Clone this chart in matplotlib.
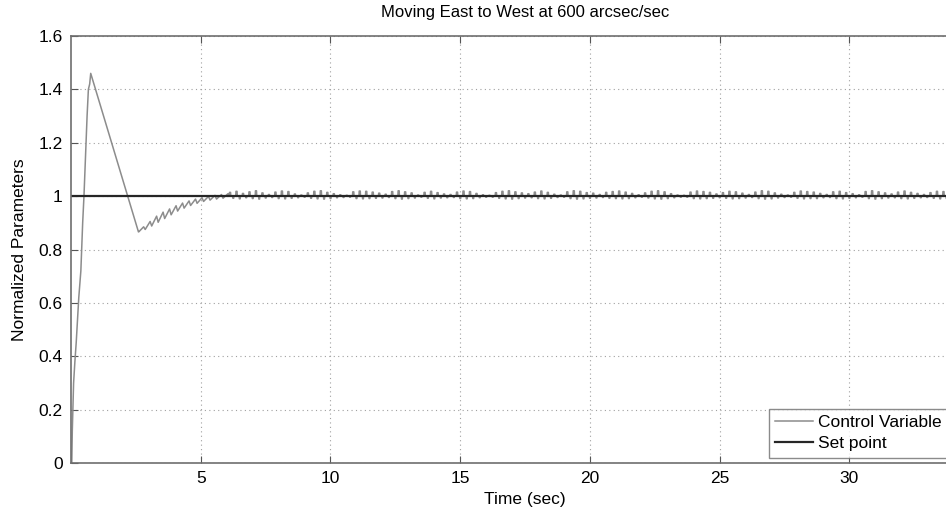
import numpy as np
import matplotlib
matplotlib.use('Agg')
import matplotlib.pyplot as plt

plt.rcParams['font.family'] = ['Liberation Sans', 'DejaVu Sans']

# rise and overshoot, then linear fall to the minimum
peak_t = [0.0, 0.03, 0.05, 0.08, 0.10, 0.15, 0.20, 0.26, 0.30, 0.35, 0.38, 0.41, 0.45, 0.50,
          0.54, 0.58, 0.62, 0.67, 0.72, 0.76, 2.60]
peak_y = [0.0, 0.0, 0.12, 0.22, 0.30, 0.38, 0.45, 0.55, 0.62, 0.68, 0.72, 0.80, 0.90, 1.00,
          1.10, 1.20, 1.30, 1.40, 1.42, 1.46, 0.866]

# recovery teeth after the undershoot (bottom / top of each tooth)
rec_lo = [0.866, 0.875, 0.888, 0.902, 0.916, 0.930, 0.944, 0.955, 0.965, 0.973, 0.980, 0.985, 0.989, 0.992]
rec_hi = [0.885, 0.905, 0.925, 0.940, 0.952, 0.964, 0.974, 0.982, 0.989, 0.994, 0.999, 1.003, 1.006, 1.009]

# steady state ripple, per cycle, in thousandths around 1
steady_hi = [14, 18, 10, 16, 20, 12, 6, 15, 19, 17,
             8, 4, 12, 18, 20, 14, 9, 5, 3, 16,
             19, 18, 15, 11, 7, 17, 20, 16, 12, 4,
             14, 18, 13, 8, 6, 15, 19, 17, 10, 5,
             3, 13, 18, 20, 16, 12, 9, 15, 19, 14,
             7, 4, 16, 20, 18, 13, 11, 6, 14, 17,
             19, 15, 10, 5, 12, 18, 20, 16, 9, 4,
             3, 15, 19, 17, 14, 8, 13, 18, 16, 11,
             6, 15, 20, 18, 12, 7, 4, 14, 19, 17,
             15, 10, 6, 16, 18, 13, 9, 5, 17, 20,
             16, 12, 8, 15, 19, 14, 10, 6, 13, 18,
             17, 12]
steady_lo = [-8, -10, -6, -9, -11, -7, -5, -9, -10, -8,
             -6, -4, -8, -10, -11, -9, -6, -5, -4, -9,
             -10, -9, -8, -7, -5, -9, -11, -9, -7, -4,
             -8, -10, -7, -6, -5, -9, -10, -9, -6, -4,
             -4, -8, -10, -11, -9, -7, -6, -9, -10, -8,
             -5, -4, -9, -11, -10, -8, -7, -5, -8, -9,
             -10, -9, -6, -4, -7, -10, -11, -9, -6, -4,
             -4, -9, -10, -9, -8, -6, -8, -10, -9, -7,
             -5, -9, -11, -10, -7, -5, -4, -8, -10, -9,
             -9, -6, -5, -9, -10, -8, -6, -4, -9, -11,
             -9, -7, -6, -9, -10, -8, -6, -5, -8, -10,
             -9, -7]

setpoint = 1.0
title = 'Moving East to West at 600 arcsec/sec'

# build the control variable trace
t = list(peak_t)
y = list(peak_y)
t0 = 2.6
for lo, hi in zip(rec_lo, rec_hi):
    t += [t0 + 0.01, t0 + 0.20]
    y += [lo, hi]
    t0 += 0.25
for hi, lo in zip(steady_hi, steady_lo):
    t += [t0, t0 + 0.01, t0 + 0.05, t0 + 0.06, t0 + 0.13, t0 + 0.14, t0 + 0.17, t0 + 0.18]
    y += [1.0, 1 + hi / 1000, 1 + hi / 1000, 1.0, 1.0, 1 + lo / 1000, 1 + lo / 1000, 1.0]
    t0 += 0.25

fig = plt.figure(figsize=(9.46, 5.17), dpi=100)
ax = fig.add_axes([71 / 946, 54 / 517, (979 - 71) / 946, 427 / 517])

l1, = ax.plot(t, y, color='#8c8c8c', lw=1.1, label='Control Variable')
l2 = ax.axhline(setpoint, color='#262626', lw=1.6, label='Set point')

ax.set_xlim(0, 35)
ax.set_ylim(0, 1.6)
ax.set_xticks([5, 10, 15, 20, 25, 30])
ax.set_yticks(np.arange(0, 1.61, 0.2))
ax.set_yticklabels(['0', '0.2', '0.4', '0.6', '0.8', '1', '1.2', '1.4', '1.6'])
ax.grid(True, linestyle=(0, (1, 3)), color='#a0a0a0', lw=0.8)
ax.tick_params(direction='in', length=5, color='#555555', labelsize=12.5, pad=6, top=True, right=True)
for s in ax.spines.values():
    s.set_color('#6e6e6e')
    s.set_linewidth(1.2)

ax.set_xlabel('Time (sec)', fontsize=12.5, labelpad=4)
ax.set_ylabel('Normalized Parameters', fontsize=12.5, labelpad=8)
ax.set_title(title, fontsize=12, pad=14)

leg = fig.legend(handles=[l1, l2], loc='upper left', bbox_to_anchor=(769 / 946, 1 - 409 / 517),
                 fontsize=12.5, frameon=True, fancybox=False, edgecolor='#6e6e6e',
                 handlelength=2.2, handletextpad=0.3, borderpad=0.35, labelspacing=0.35, borderaxespad=0)
leg.get_frame().set_linewidth(1.0)

fig.savefig('out.png', dpi=100)
